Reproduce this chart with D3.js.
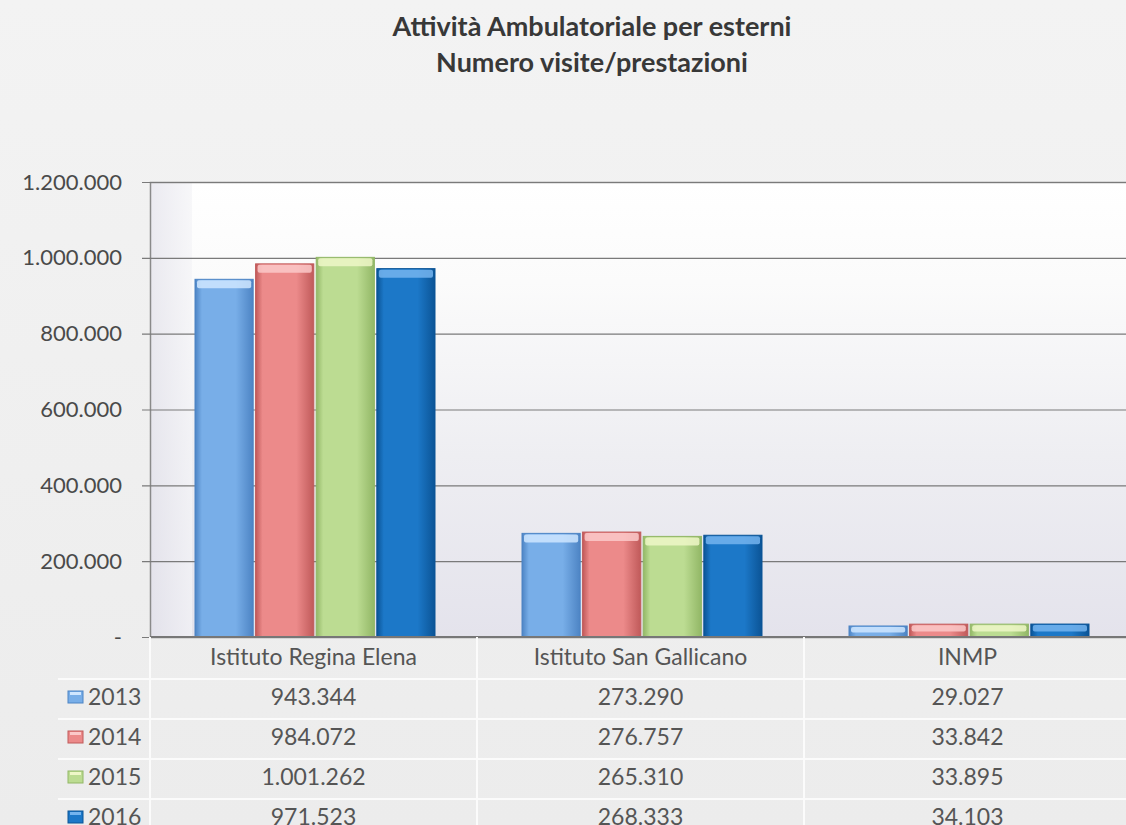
<!DOCTYPE html>
<html>
<head>
<meta charset="utf-8">
<script src="https://cdn.jsdelivr.net/npm/d3@7"></script>
<style>
  body { margin: 0; background: #efefef; }
  svg { display: block; }
  text { font-family: Lato, "Open Sans", sans-serif; }
</style>
</head>
<body>
<svg width="1126" height="825"></svg>
<script>
// data
var categories = ['Istituto Regina Elena', 'Istituto San Gallicano', 'INMP'];
var years = ['2013', '2014', '2015', '2016'];
var values2013 = [943344, 273290, 29027];
var values2014 = [984072, 276757, 33842];
var values2015 = [1001262, 265310, 33895];
var values2016 = [971523, 268333, 34103];
var yTicks = [0, 200000, 400000, 600000, 800000, 1000000, 1200000];
var titleLines = ['Attività Ambulatoriale per esterni', 'Numero visite/prestazioni'];

var series = [values2013, values2014, values2015, values2016];

// colours: [edge, middle, cap]
var colors = [
  ['#4d84c4', '#78aee8', '#cfe6ff'],
  ['#c05a5a', '#ec8a8a', '#fbc9c9'],
  ['#92b766', '#bcdc92', '#eef7c8'],
  ['#0b5496', '#1c78c8', '#74b4ee']
];

var it = d3.formatLocale({ decimal: ',', thousands: '.', grouping: [3], currency: ['€', ''] });
var fmt = it.format(',');

var svg = d3.select('svg');
var W = 1126, H = 825;
var plotLeft = 150, plotRight = 1131, plotTop = 182, plotBottom = 637;

var defs = svg.append('defs');

var bg = defs.append('linearGradient').attr('id', 'bg').attr('x1', 0).attr('y1', 0).attr('x2', 0).attr('y2', 1);
bg.append('stop').attr('offset', '0%').attr('stop-color', '#f3f3f3');
bg.append('stop').attr('offset', '100%').attr('stop-color', '#ececec');

var plotBg = defs.append('linearGradient').attr('id', 'plotBg').attr('x1', 0).attr('y1', 0).attr('x2', 0).attr('y2', 1);
plotBg.append('stop').attr('offset', '0%').attr('stop-color', '#ffffff');
plotBg.append('stop').attr('offset', '22%').attr('stop-color', '#fbfbfb');
plotBg.append('stop').attr('offset', '60%').attr('stop-color', '#eeeef2');
plotBg.append('stop').attr('offset', '100%').attr('stop-color', '#e4e3ec');

var wall = defs.append('linearGradient').attr('id', 'wall').attr('x1', 0).attr('y1', 0).attr('x2', 1).attr('y2', 0);
wall.append('stop').attr('offset', '0%').attr('stop-color', '#e2e1ea');
wall.append('stop').attr('offset', '100%').attr('stop-color', '#f4f4f7');

colors.forEach(function(c, i) {
  var g = defs.append('linearGradient').attr('id', 'bar' + i).attr('x1', 0).attr('y1', 0).attr('x2', 1).attr('y2', 0);
  g.append('stop').attr('offset', '0%').attr('stop-color', c[0]);
  g.append('stop').attr('offset', '12%').attr('stop-color', c[1]);
  g.append('stop').attr('offset', '70%').attr('stop-color', c[1]);
  g.append('stop').attr('offset', '100%').attr('stop-color', c[0]);
});

svg.append('rect').attr('width', W).attr('height', H).attr('fill', 'url(#bg)');

// title
svg.append('g').selectAll('text').data(titleLines).join('text')
  .attr('x', 592).attr('y', function(d, i) { return 36 + i * 36; })
  .attr('text-anchor', 'middle')
  .attr('font-size', 27).attr('font-weight', 'bold').attr('fill', '#383838')
  .text(function(d) { return d; });

// scales
var y = d3.scaleLinear().domain([0, 1200000]).range([plotBottom, plotTop]);
var x0 = d3.scaleBand().domain(categories).range([plotLeft, plotRight]);
var x1 = d3.scaleBand().domain(years).range([45, 285]).paddingInner(0.04);

// plot area
svg.append('rect').attr('x', plotLeft).attr('y', plotTop).attr('width', plotRight - plotLeft).attr('height', plotBottom - plotTop)
  .attr('fill', 'url(#plotBg)');
svg.append('rect').attr('x', plotLeft).attr('y', plotTop).attr('width', 42).attr('height', plotBottom - plotTop)
  .attr('fill', 'url(#wall)').attr('opacity', 0.7);

// gridlines + y labels
var yAxis = svg.append('g').attr('transform', 'translate(' + plotLeft + ',0)')
  .call(d3.axisLeft(y).tickValues(yTicks).tickSize(-(plotRight - plotLeft)).tickPadding(28)
    .tickFormat(function(d) { return d === 0 ? '-' : fmt(d); }));
yAxis.select('.domain').attr('stroke', '#8a8a8a').attr('stroke-width', 1.5);
yAxis.selectAll('.tick line').attr('stroke', '#7a7a7a').attr('stroke-width', 1.2).attr('x1', -8);
yAxis.selectAll('.tick text').attr('font-size', 22).attr('fill', '#4a4a4a')
  .attr('font-family', 'Lato, "Open Sans", sans-serif');

// bars
var groups = svg.append('g').selectAll('g').data(categories).join('g')
  .attr('transform', function(d) { return 'translate(' + x0(d) + ',0)'; });

groups.each(function(cat, ci) {
  var g = d3.select(this);
  var items = years.map(function(yr, si) { return { year: yr, si: si, v: series[si][ci] }; });
  g.selectAll('rect.bar').data(items).join('rect').attr('class', 'bar')
    .attr('x', function(d) { return x1(d.year); })
    .attr('y', function(d) { return y(d.v); })
    .attr('width', x1.bandwidth())
    .attr('height', function(d) { return plotBottom - y(d.v); })
    .attr('fill', function(d) { return 'url(#bar' + d.si + ')'; })
    .attr('stroke', function(d) { return colors[d.si][0]; })
    .attr('stroke-width', 1);
  // light bevel on top of each bar
  g.selectAll('rect.cap').data(items).join('rect').attr('class', 'cap')
    .attr('x', function(d) { return x1(d.year) + 2; })
    .attr('y', function(d) { return y(d.v) + 1; })
    .attr('width', x1.bandwidth() - 4)
    .attr('height', function(d) { return Math.min(8, (plotBottom - y(d.v)) / 2); })
    .attr('rx', 2)
    .attr('fill', function(d) { return colors[d.si][2]; })
    .attr('opacity', 0.85);
});

// base line
svg.append('line').attr('x1', plotLeft).attr('x2', plotRight).attr('y1', plotBottom).attr('y2', plotBottom)
  .attr('stroke', '#777').attr('stroke-width', 2);

// data table
var rowH = 40;
var tableTop = 637;
var tbl = svg.append('g');

tbl.selectAll('line.row').data(d3.range(1, 5)).join('line').attr('class', 'row')
  .attr('x1', 58).attr('x2', plotRight)
  .attr('y1', function(d) { return tableTop + 2 + d * rowH; })
  .attr('y2', function(d) { return tableTop + 2 + d * rowH; })
  .attr('stroke', '#fbfbfb').attr('stroke-width', 2);

tbl.selectAll('line.col').data(categories).join('line').attr('class', 'col')
  .attr('x1', function(d) { return x0(d); }).attr('x2', function(d) { return x0(d); })
  .attr('y1', tableTop).attr('y2', H)
  .attr('stroke', '#fbfbfb').attr('stroke-width', 2);

tbl.selectAll('text.head').data(categories).join('text').attr('class', 'head')
  .attr('x', function(d) { return x0(d) + x0.bandwidth() / 2; })
  .attr('y', tableTop + 28)
  .attr('text-anchor', 'middle').attr('font-size', 23).attr('fill', '#555')
  .text(function(d) { return d; });

years.forEach(function(yr, si) {
  var ry = tableTop + 20 + (si + 1) * rowH;
  var key = tbl.append('g').attr('transform', 'translate(68,' + (ry - 6) + ')');
  key.append('rect').attr('width', 15).attr('height', 12).attr('fill', colors[si][1])
    .attr('stroke', colors[si][0]);
  key.append('rect').attr('x', 2).attr('y', 1).attr('width', 11).attr('height', 3).attr('fill', colors[si][2]);
  tbl.append('text').attr('x', 88).attr('y', ry + 8)
    .attr('font-size', 23).attr('fill', '#555').text(yr);
  tbl.selectAll('text.v' + si).data(series[si]).join('text').attr('class', 'v' + si)
    .attr('x', function(d, ci) { return x0(categories[ci]) + x0.bandwidth() / 2; })
    .attr('y', ry + 8)
    .attr('text-anchor', 'middle').attr('font-size', 23).attr('fill', '#555')
    .text(function(d) { return fmt(d); });
});
</script>
</body>
</html>
